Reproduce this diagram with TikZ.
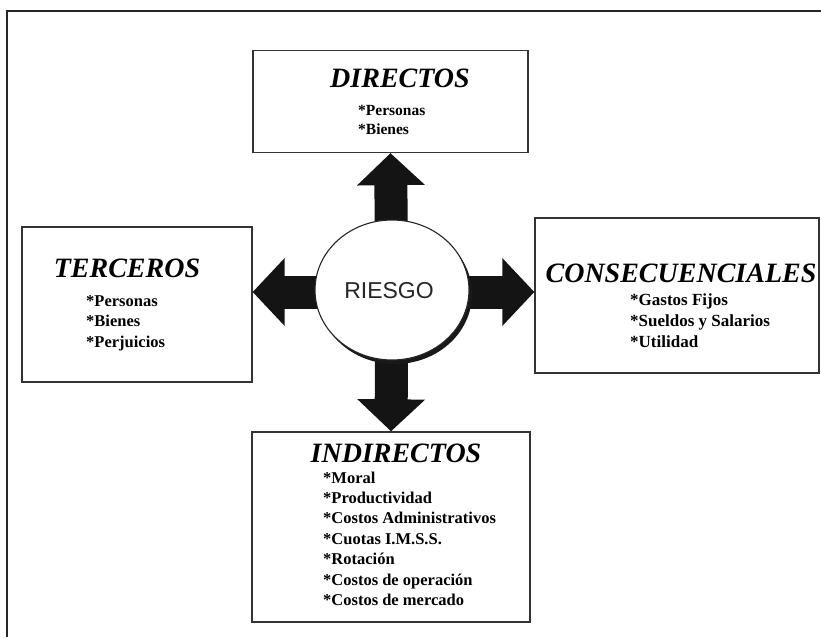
\documentclass[tikz,border=0pt]{standalone}
\usepackage{fontspec}
\setmainfont{Liberation Serif}
\newfontfamily\arialfont{Liberation Sans}
\usetikzlibrary{arrows.meta,shapes.geometric}
\begin{document}
\begin{tikzpicture}[x=1pt,y=-1pt,
  frame/.style={draw=black!85, line width=2.4pt},
  box/.style={draw=black!80, line width=1.3pt, fill=white, inner sep=0pt},
  title/.style={font=\fontsize{28}{30}\selectfont\bfseries\itshape, anchor=base, inner sep=0pt, text=black},
  item/.style={anchor=base west, inner sep=0pt, text=black},
  bigarrow/.style={line width=33pt, draw=black!92, -{Triangle[length=32pt 0 0,width=66pt 0 0]}},
]
\useasboundingbox (0,0) rectangle (821,637);
% outer frame (top and left edges only)
\coordinate (ftl) at (7,11);
\coordinate (ftr) at (821,11);
\coordinate (fbl) at (7,637);
\draw[frame] (ftr) -- (ftl) -- (fbl);

% boxes
\node[box, minimum width=275pt, minimum height=102pt] (dir) at (390.5,101.5) {};
\node[box, minimum width=230pt, minimum height=155pt] (ter) at (137,304.5) {};
\node[box, minimum width=284pt, minimum height=155pt] (con) at (677,295.5) {};
\node[box, minimum width=278pt, minimum height=190pt] (ind) at (391,527) {};

% centre
\coordinate (c) at (392,292);
\draw[bigarrow] (c) -- (dir.south);
\draw[bigarrow] (c) -- (ind.north);
\draw[bigarrow] (c) -- (ter.east |- c);
\draw[bigarrow] (c) -- (con.west |- c);
\node[ellipse, fill=black!90, minimum width=154pt, minimum height=140pt, inner sep=0pt] (shadow) at (395,294) {};
\node[ellipse, draw=black!85, line width=1.1pt, fill=white, minimum width=154pt, minimum height=140pt, inner sep=0pt] (riesgoshape) at (392,290) {};
\node[font=\arialfont\fontsize{23}{25}\selectfont, text=black!85, inner sep=0pt] (riesgo) at (389,291) {RIESGO};

% titles
\node[title] (tdir) at (400,87) {DIRECTOS};
\node[title] (tter) at (127,277) {TERCEROS};
\node[title] (tcon) at (681,282) {CONSECUENCIALES};
\node[title] (tind) at (396,462) {INDIRECTOS};

% items
\foreach \t [count=\i] in {Personas,Bienes}
  \node[item, font=\fontsize{15.5}{17}\selectfont\bfseries] (dir-\i) at (358,{115+(\i-1)*19}) {*\t};
\foreach \t [count=\i] in {Personas,Bienes,Perjuicios}
  \node[item, font=\fontsize{16.5}{18}\selectfont\bfseries] (ter-\i) at (86,{306+(\i-1)*20.5}) {*\t};
\foreach \t [count=\i] in {Gastos Fijos,Sueldos y Salarios,Utilidad}
  \node[item, font=\fontsize{17}{18}\selectfont\bfseries] (con-\i) at (630,{305+(\i-1)*21}) {*\t};
\foreach \t [count=\i] in {Moral,Productividad,Costos Administrativos,Cuotas I.M.S.S.,Rotación,Costos de operación,Costos de mercado}
  \node[item, font=\fontsize{16.5}{18}\selectfont\bfseries] (ind-\i) at (323,{483+(\i-1)*20.4}) {*\t};
\end{tikzpicture}
\end{document}
